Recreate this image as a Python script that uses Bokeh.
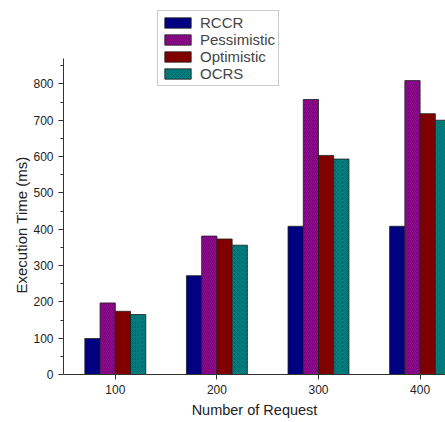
from bokeh.plotting import figure
from bokeh.models import ColumnDataSource, Legend, LegendItem, FixedTicker, Range1d, Title
from bokeh.embed import file_html
from bokeh.resources import INLINE

requests = [100, 200, 300, 400]
tick_labels = ["100", "200", "300", "400"]
rccr = [99, 272, 408, 408]
pessimistic = [197, 381, 757, 809]
optimistic = [174, 373, 603, 718]
ocrs = [165, 356, 593, 700]
y_ticks = [0, 100, 200, 300, 400, 500, 600, 700, 800]
y_minor = [50, 150, 250, 350, 450, 550, 650, 750, 850]

series_names = ["RCCR", "Pessimistic", "Optimistic", "OCRS"]
series_values = [rccr, pessimistic, optimistic, ocrs]
colors = ["#000080", "#800080", "#800000", "#008080"]
hatches = [None, "/", None, "x"]
hatch_colors = ["#000080", "#a030a0", "#800000", "#004848"]
offsets = [-22.5, -7.5, 7.5, 22.5]
bar_w = 15

FONT = "Liberation Sans"

p = figure(width=445, height=422, output_backend="svg", toolbar_location=None,
           x_range=Range1d(49, 425), y_range=Range1d(0, 1013),
           min_border_left=63, min_border_right=0, min_border_top=6, min_border_bottom=48)

p.grid.visible = False
p.outline_line_color = None
p.background_fill_color = "white"
p.border_fill_color = "white"

items = []
for name, vals, c, h, hc, off in zip(series_names, series_values, colors, hatches, hatch_colors, offsets):
    src = ColumnDataSource(dict(x=[r + off for r in requests], top=vals))
    kw = {}
    if h:
        kw = dict(hatch_pattern=h, hatch_color=hc, hatch_alpha=0.35, hatch_scale=4, hatch_weight=1)
    r = p.vbar(x="x", top="top", width=bar_w, bottom=0, source=src,
               fill_color=c, line_color="#202020", line_width=0.8, **kw)
    items.append(LegendItem(label=name, renderers=[r]))

legend = Legend(items=items, location=(94, 288), orientation="vertical",
                label_text_font=FONT, label_text_font_size="15px",
                glyph_width=33, glyph_height=13, spacing=0, padding=3, margin=0,
                label_standoff=6, label_height=15,
                border_line_color="#999999", border_line_width=1,
                background_fill_color="white", background_fill_alpha=1.0)
p.add_layout(legend, "center")

p.xaxis.ticker = FixedTicker(ticks=requests)
p.xaxis.major_label_overrides = {r: t for r, t in zip(requests, tick_labels)}
p.xaxis.axis_label = "Number of Request"
p.yaxis.ticker = FixedTicker(ticks=y_ticks, minor_ticks=y_minor)
p.yaxis.bounds = (0, 870)

for ax in (p.xaxis[0], p.yaxis[0]):
    ax.axis_line_color = "#333333"
    ax.axis_line_width = 1
    ax.major_tick_line_color = "#333333"
    ax.minor_tick_line_color = "#333333"
    ax.major_tick_in = 0
    ax.major_tick_out = 5
    ax.minor_tick_in = 0
    ax.minor_tick_out = 3
    ax.major_label_text_font = FONT
    ax.major_label_text_font_size = "12px"
    ax.major_label_text_color = "#222222"
    ax.axis_label_text_font = FONT
    ax.axis_label_text_font_size = "14.5px"
    ax.axis_label_text_font_style = "normal"
    ax.axis_label_text_color = "#222222"
p.xaxis.minor_tick_line_color = None
p.xaxis.axis_label_standoff = 5

ylab = Title(text="Execution Time (ms)", align="left", offset=81,
             text_font=FONT, text_font_size="15px", text_font_style="normal",
             text_color="#222222", standoff=2)
p.add_layout(ylab, "left")

open("out.html", "w").write(file_html(p, INLINE))
